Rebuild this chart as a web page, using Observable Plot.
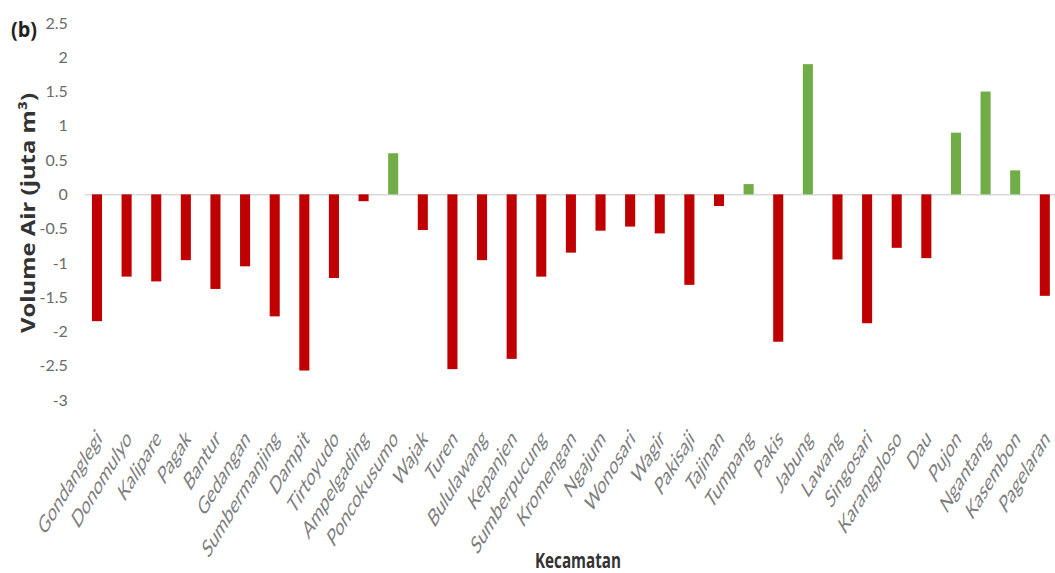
<!DOCTYPE html>
<html><head><meta charset="utf-8">
<script src="https://cdn.jsdelivr.net/npm/d3@7"></script>
<script src="https://cdn.jsdelivr.net/npm/@observablehq/plot@0.6"></script>
<style>
html,body{margin:0;padding:0;background:#fff;}
#chart{width:1055px;height:573px;overflow:hidden;}
</style></head>
<body><div id="chart"></div>
<script>
const kecamatan = ["Gondanglegi","Donomulyo","Kalipare","Pagak","Bantur","Gedangan","Sumbermanjing","Dampit","Tirtoyudo","Ampelgading","Poncokusumo","Wajak","Turen","Bululawang","Kepanjen","Sumberpucung","Kromengan","Ngajum","Wonosari","Wagir","Pakisaji","Tajinan","Tumpang","Pakis","Jabung","Lawang","Singosari","Karangploso","Dau","Pujon","Ngantang","Kasembon","Pagelaran"];
const volume = [-1.85,-1.2,-1.27,-0.96,-1.38,-1.05,-1.78,-2.57,-1.22,-0.1,0.6,-0.52,-2.55,-0.96,-2.4,-1.2,-0.85,-0.53,-0.47,-0.57,-1.32,-0.17,0.15,-2.15,1.9,-0.95,-1.88,-0.78,-0.93,0.9,1.5,0.35,-1.48];
const yTicks = [2.5,2,1.5,1,0.5,0,-0.5,-1,-1.5,-2,-2.5,-3];
const data = kecamatan.map((k,i)=>({k, v: volume[i]}));
const font = "'Lato',sans-serif";

const plot = Plot.plot({
  width: 1055, height: 573,
  marginLeft: 72.4, marginRight: -14.4, marginTop: 23, marginBottom: 173,
  style: {fontFamily: font, background: "#fff", overflow: "visible"},
  x: {domain: kecamatan, padding: 0.66, round: false, label: null},
  y: {domain: [-3, 2.5], ticks: yTicks, label: null},
  marks: [
    Plot.ruleY([0], {stroke: "#d9d9d9", strokeWidth: 1.5, insetLeft: 12.6, insetRight: 14.4}),
    Plot.barY(data, {x: "k", y: "v", fill: d => d.v >= 0 ? "#70ad47" : "#c00000"}),
    Plot.axisY({ticks: yTicks, tickSize: 0, tickPadding: 5, fontSize: 16, fill: "#6b6b6b", tickFormat: d => String(d)}),
    Plot.axisX({tickSize: 0, tickRotate: -45, tickPadding: 22, fontSize: 15, fill: "#7f7f7f", anchor: "bottom"})
  ]
});
document.getElementById("chart").appendChild(plot);
const svg = d3.select(plot);
// stretch rotated x tick labels vertically, as in the reference
svg.selectAll("g[aria-label='x-axis tick label'] text").each(function() {
  let t = this.getAttribute("transform") || "";
  t = t.replace(/translate\(([-\d.]+),\s*([-\d.]+)\)/, (m, a, b) => `translate(${+a + 2},${+b + 12})`);
  this.setAttribute("transform", t.replace(/rotate\(([-\d.]+)\)/, "scale(1,1.65) rotate($1)"));
});
svg.append("text").attr("x", 11).attr("y", 37).text("(b)").attr("text-anchor", "start")
  .attr("font-family", "'Open Sans',sans-serif").attr("font-weight", "bold").attr("font-size", 22)
  .attr("textLength", 26).attr("lengthAdjust", "spacingAndGlyphs").attr("fill", "#222");
svg.append("text").attr("transform", "translate(35,213) rotate(-90)").attr("text-anchor", "middle")
  .attr("font-family", "'Open Sans',sans-serif").attr("font-weight", "bold").attr("font-size", 20).attr("fill", "#333")
  .attr("textLength", 240).attr("lengthAdjust", "spacingAndGlyphs")
  .text("Volume Air (juta m\u00b3)");
svg.append("text").attr("x", 578).attr("y", 568).attr("text-anchor", "middle")
  .attr("font-family", "'Open Sans',sans-serif").attr("font-weight", "bold").attr("font-size", 21).attr("fill", "#333")
  .attr("textLength", 86).attr("lengthAdjust", "spacingAndGlyphs")
  .text("Kecamatan");
</script></body></html>
